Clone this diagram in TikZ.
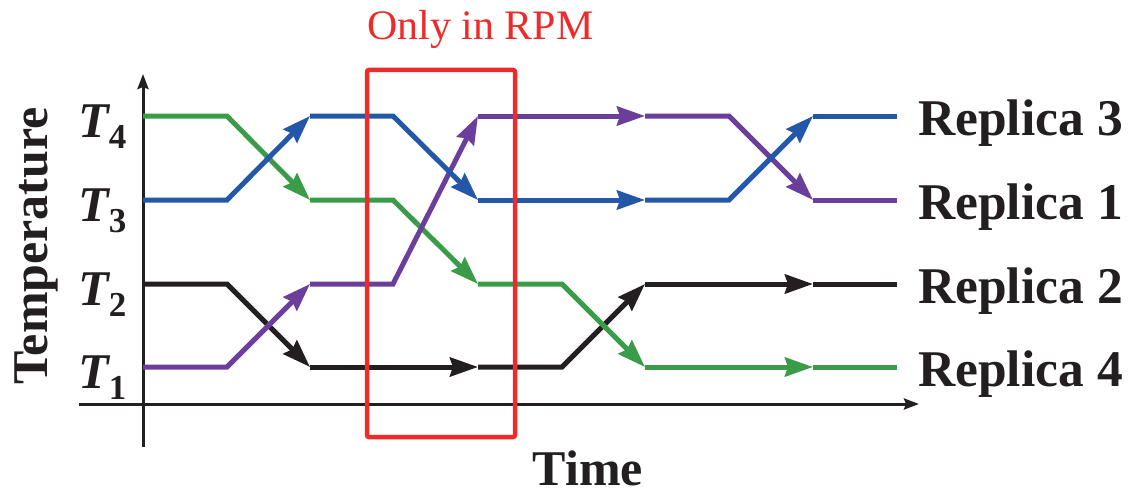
\documentclass[tikz,border=0pt]{standalone}
\usepackage{fontspec}
\setmainfont{Liberation Serif}
\usetikzlibrary{arrows.meta}
\definecolor{rgreen}{RGB}{58,155,72}
\definecolor{rblue}{RGB}{35,87,168}
\definecolor{rpurple}{RGB}{106,62,154}
\definecolor{rblack}{RGB}{35,31,32}
\definecolor{rred}{RGB}{238,42,42}
\newcommand\myreplica[6]{%
  \draw[aseg,#1] (p0#2) -- (p1#2) -- (p2#3);
  \draw[aseg,#1] (p2#3) -- (p3#3) -- (p4#4);
  \draw[aseg,#1] (p4#4) -- (p5#4) -- (p6#5);
  \draw[aseg,#1] (p6#5) -- (p7#5) -- (p8#6);
  \draw[seg,#1] (p8#6) -- (p9#6);
}
\newcommand\tlab[3]{\node[tl] (T#1) at (78,#2) {\textbf{\textit{T}}\kern-1.5pt\raisebox{-11pt}{\fontsize{35}{35}\selectfont\bfseries #3}};}
\begin{document}
\begin{tikzpicture}[x=1pt,y=-1pt,
  seg/.style={line width=5pt,line join=miter},
  aseg/.style={line width=5pt,line join=miter,-{Stealth[length=28pt,width=19pt,inset=3pt]}},
  axis/.style={line width=3pt,draw=rblack,-{Stealth[length=15pt,width=11pt,inset=2pt]}},
  tl/.style={anchor=base west,inner sep=0pt,font=\fontsize{50}{50}\selectfont,text=rblack},
  rl/.style={anchor=base west,inner sep=0pt,font=\fontsize{51.5}{52}\selectfont\bfseries,text=rblack},
]
\useasboundingbox (0,0) rectangle (1130,495);
% grid points
\foreach \i/\x in {0/143,1/227,2/310,3/393,4/478,5/562,6/645,7/729,8/813,9/897}
  \foreach \j/\y in {1/367,2/284,3/200,4/116}
    \coordinate (p\i\j) at (\x,\y);
% axes
\coordinate (ybot) at (143,447);
\coordinate (ytop) at (143,74);
\coordinate (xl) at (79,404);
\coordinate (xr) at (919,404);
\draw[axis] (ybot) -- (ytop);
\draw[axis] (xl) -- (xr);
% replicas
\myreplica{rblack}{2}{1}{1}{2}{2}
\myreplica{rgreen}{4}{3}{2}{1}{1}
\myreplica{rpurple}{1}{2}{4}{4}{3}
\myreplica{rblue}{3}{4}{3}{3}{4}
% red box
\draw[rred,line width=4.5pt,rounded corners=2pt] (367,70) rectangle (515,437);
\node[anchor=base west,inner sep=0pt,font=\fontsize{42}{42}\selectfont,text=rred] (rpm) at (367,40) {Only in RPM};
% labels
\tlab{4}{137}{4}
\tlab{3}{221}{3}
\tlab{2}{305}{2}
\tlab{1}{388}{1}
\node[rl] (r3) at (918,135) {Replica 3};
\node[rl] (r1) at (918,219) {Replica 1};
\node[rl] (r2) at (918,303) {Replica 2};
\node[rl] (r4) at (918,386) {Replica 4};
\node[anchor=base,inner sep=0pt,font=\fontsize{50}{50}\selectfont\bfseries,text=rblack] (time) at (588,485) {Time};
\node[anchor=base,inner sep=0pt,rotate=90,font=\fontsize{50}{50}\selectfont\bfseries,text=rblack] (temp) at (47,246) {Temperature};
\end{tikzpicture}
\end{document}
